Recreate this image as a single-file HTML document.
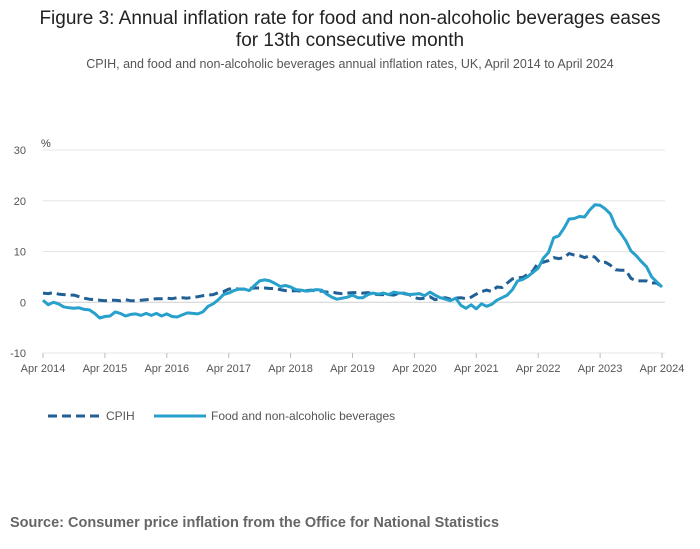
<!DOCTYPE html>
<html><head><meta charset="utf-8"><style>
body{margin:0;background:#fff;font-family:"Liberation Sans",sans-serif;}
#wrap{position:relative;width:700px;height:549px;overflow:hidden}
</style></head><body>
<div id="wrap">
<svg id="svg" width="700" height="549" xmlns="http://www.w3.org/2000/svg">
<text x="350" y="24" text-anchor="middle" font-size="19" fill="#222">Figure 3: Annual inflation rate for food and non-alcoholic beverages eases</text>
<text x="350" y="46" text-anchor="middle" font-size="19" fill="#222">for 13th consecutive month</text>
<text x="350" y="68" text-anchor="middle" font-size="12.5" fill="#555">CPIH, and food and non-alcoholic beverages annual inflation rates, UK, April 2014 to April 2024</text>
<text x="41" y="147" font-size="11" fill="#444">%</text>
<g id="grid"></g><g id="series"></g>
<g>
<line x1="48" y1="416" x2="102" y2="416" stroke="#206095" stroke-width="3" stroke-dasharray="9,5"/>
<text x="106" y="420" font-size="12" fill="#555">CPIH</text>
<line x1="154" y1="416" x2="206" y2="416" stroke="#27a0cc" stroke-width="3"/>
<text x="211" y="420" font-size="12" fill="#555">Food and non-alcoholic beverages</text>
</g>
<text x="10" y="527" font-size="14.5" font-weight="bold" fill="#666">Source: Consumer price inflation from the Office for National Statistics</text>
</svg></div>
<script>
const yTicks=[30,20,10,0,-10];
const xTickLabels=["Apr 2014","Apr 2015","Apr 2016","Apr 2017","Apr 2018","Apr 2019","Apr 2020","Apr 2021","Apr 2022","Apr 2023","Apr 2024"];
const foodValues=[0.4,-0.5,0.0,-0.3,-0.9,-1.1,-1.2,-1.1,-1.4,
-1.5,-2.2,-3.1,-2.8,-2.7,-1.9,-2.2,-2.7,-2.4,-2.3,-2.6,-2.2,
-2.6,-2.2,-2.7,-2.3,-2.8,-2.9,-2.5,-2.1,-2.2,-2.3,-1.9,-0.8,
-0.3,0.5,1.5,1.8,2.3,2.6,2.6,2.3,3.3,4.2,4.4,4.2,
3.7,3.1,3.3,3.0,2.5,2.4,2.2,2.3,2.5,2.4,1.6,1.0,
0.6,0.8,1.0,1.4,0.9,0.9,1.5,1.8,1.6,1.8,1.5,2.0,
1.8,1.8,1.5,1.6,1.7,1.3,2.0,1.4,0.9,0.6,0.3,0.8,
-0.6,-1.2,-0.5,-1.3,-0.3,-0.8,-0.4,0.4,0.9,1.4,2.5,4.2,
4.5,5.1,5.9,6.7,8.7,9.8,12.7,13.1,14.6,16.4,16.5,16.9,
16.8,18.2,19.2,19.1,18.4,17.4,14.9,13.6,12.1,10.1,9.2,8.0,
7.0,5.0,4.0,3.0];
const cpihValues=[1.8,1.7,1.9,1.6,1.5,1.4,1.4,1.1,0.8,
0.6,0.5,0.4,0.3,0.4,0.4,0.3,0.5,0.3,0.3,0.4,0.5,
0.6,0.7,0.7,0.8,0.7,0.9,0.9,0.8,1.0,1.1,1.3,1.4,
1.5,1.9,2.1,2.6,2.7,2.6,2.6,2.7,2.8,2.8,2.8,2.7,
2.7,2.5,2.3,2.2,2.3,2.2,2.3,2.4,2.2,2.2,2.0,2.0,
1.8,1.7,1.8,1.9,1.9,1.8,1.9,1.6,1.5,1.5,1.5,1.4,
1.8,1.7,1.5,0.9,0.7,0.8,1.1,0.5,0.7,0.9,0.6,0.8,
0.9,0.7,1.0,1.6,2.1,2.4,2.1,3.0,2.9,3.8,4.6,4.8,
4.9,5.5,6.2,7.8,7.9,8.2,8.8,8.6,8.8,9.6,9.3,9.2,
8.8,9.2,8.9,7.8,7.9,7.3,6.4,6.3,6.3,4.7,4.2,4.2,
4.2,3.8,3.8,3.0];
const NS="http://www.w3.org/2000/svg";
const X0=43,X1=662,Y30=150,Ym10=353;
const xs=i=>X0+(X1-X0)*i/120;
const ys=v=>Y30+(30-v)*(Ym10-Y30)/40;
const grid=document.getElementById('grid'),ser=document.getElementById('series');
function mk(t,a,p){const e=document.createElementNS(NS,t);for(const k in a)e.setAttribute(k,a[k]);p.appendChild(e);return e;}
yTicks.forEach(v=>{
 const l=mk('line',{x1:X0,x2:665,y1:ys(v),y2:ys(v),stroke:v===0?'#d0d0d0':'#e6e6e6','stroke-width':1},grid);
 
 
 const t=mk('text',{x:26,y:ys(v)+4,'text-anchor':'end','font-size':11,fill:'#555'},grid);
 t.textContent=v;
 
 
});
xTickLabels.forEach((s,k)=>{
 const x=xs(k*12);
 const l=mk('line',{x1:x,x2:x,y1:ys(-10),y2:ys(-10)+5,stroke:'#bbb'},grid);
 
 
 const t=mk('text',{x:x,y:372,'text-anchor':'middle','font-size':11,fill:'#555'},grid);
 t.textContent=s;
 
 
});
function path(vals){return vals.map((v,i)=>(i?'L':'M')+xs(i).toFixed(1)+','+ys(v).toFixed(1)).join('');}
const c=mk('path',{d:path(cpihValues),fill:'none',stroke:'#206095','stroke-width':3,'stroke-dasharray':'9,5','stroke-linejoin':'round'},ser);


const f=mk('path',{d:path(foodValues),fill:'none',stroke:'#27a0cc','stroke-width':3,'stroke-linejoin':'round'},ser);


</script>
</body></html>
